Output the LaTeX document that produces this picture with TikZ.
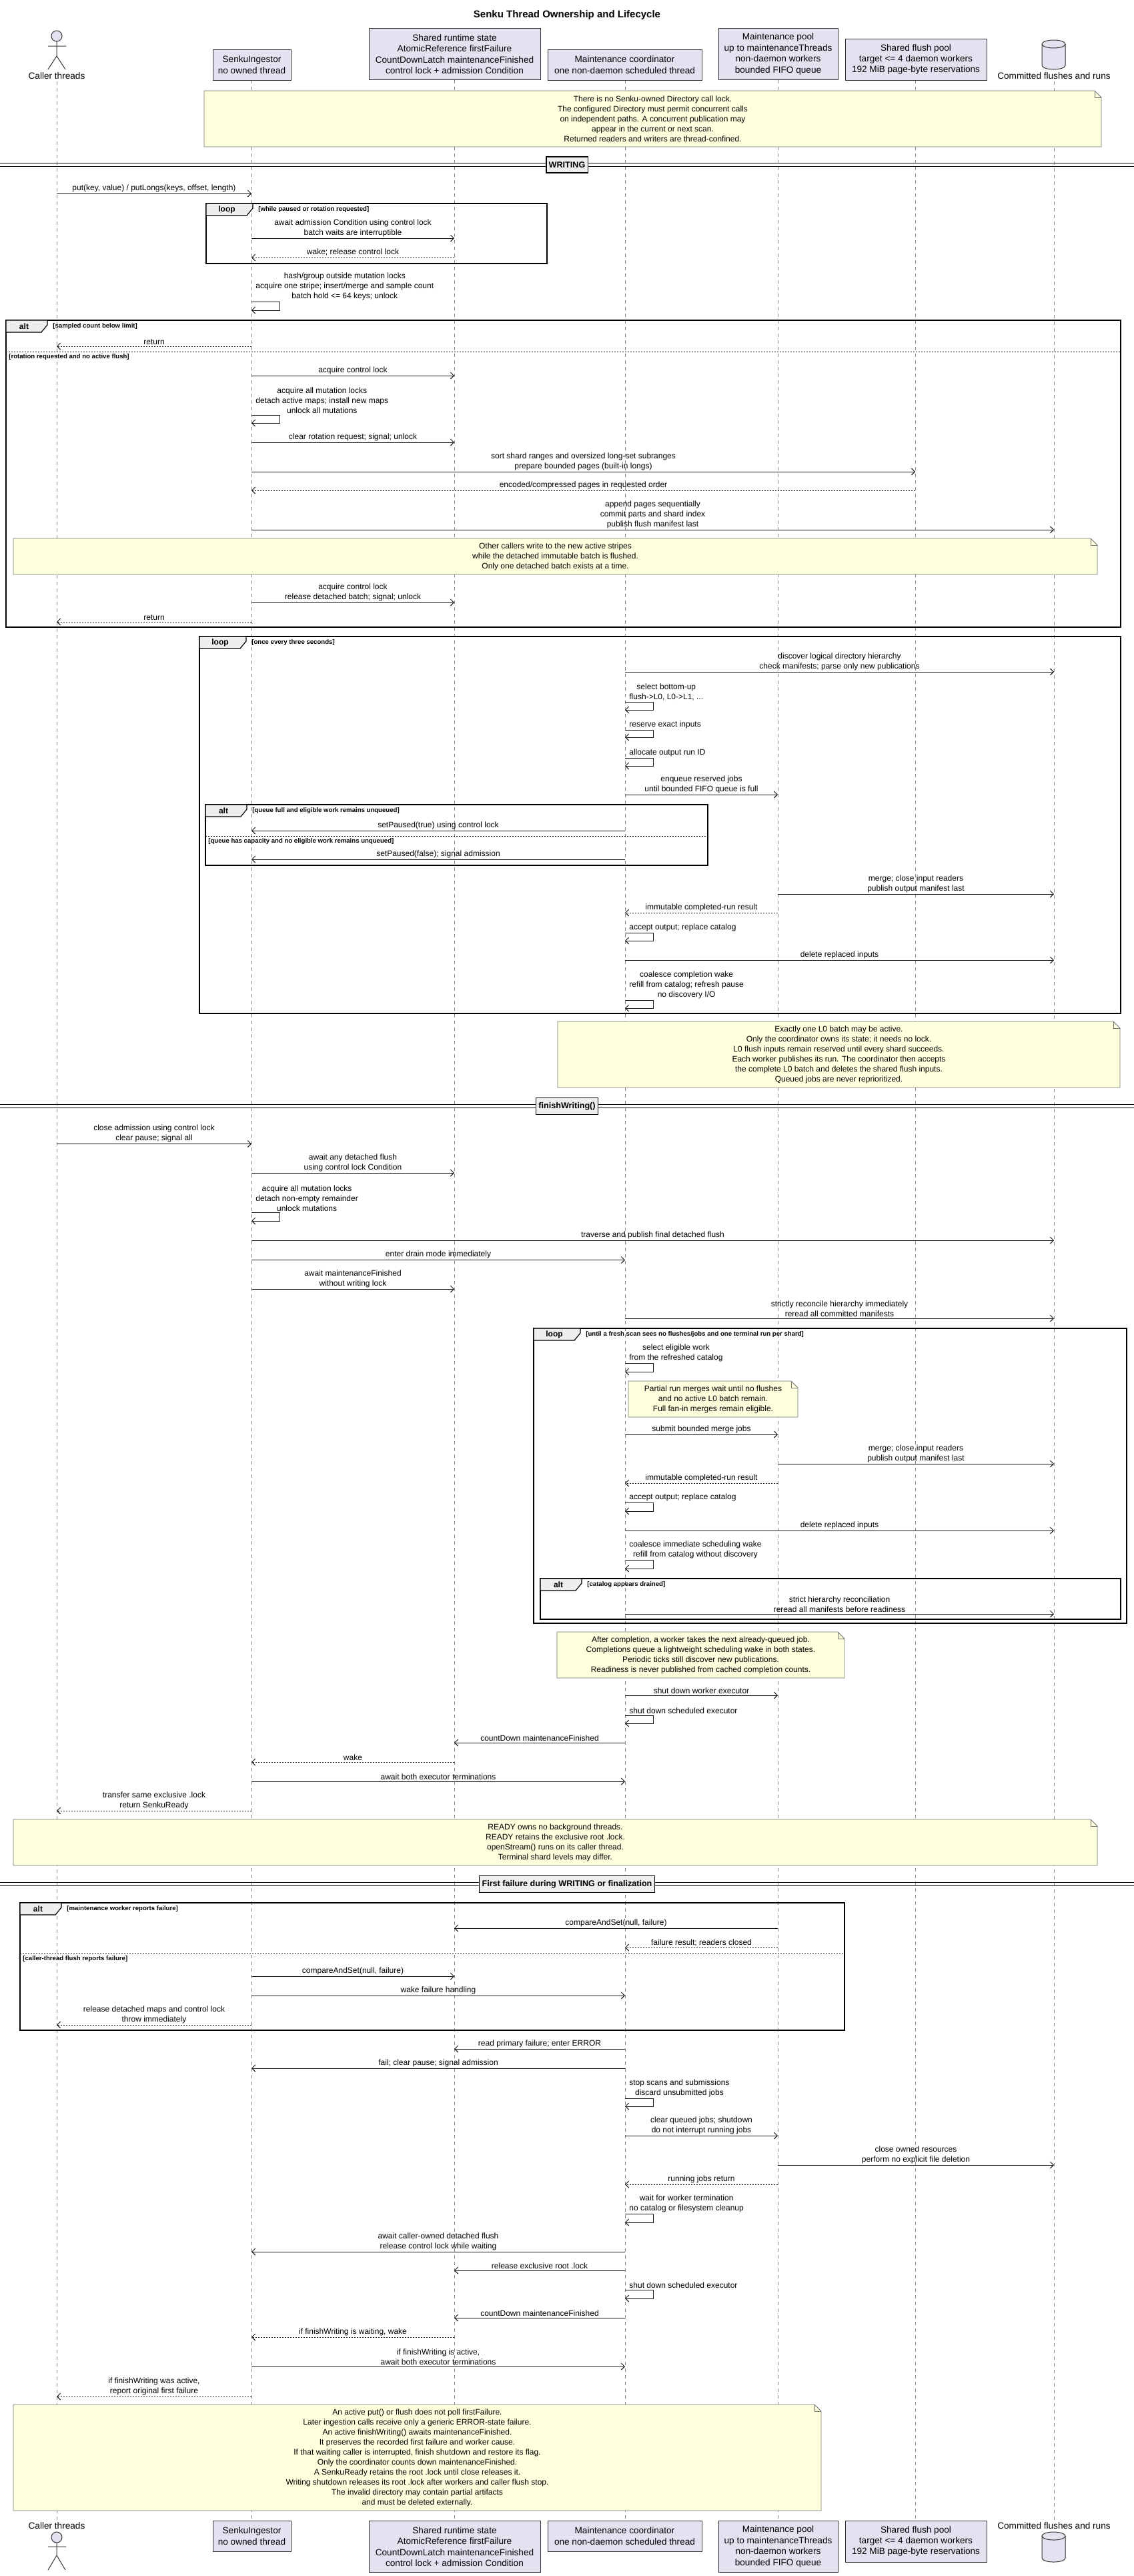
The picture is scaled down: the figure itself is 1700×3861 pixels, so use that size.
\documentclass[tikz,border=0pt]{standalone}
\usepackage{fontspec}
\setmainfont{Liberation Sans}
\usetikzlibrary{arrows.meta,shapes.geometric}
\definecolor{partfill}{HTML}{E2E2F0}
\definecolor{notefill}{HTML}{FEFFDD}
\definecolor{tabfill}{HTML}{EEEEEE}
\definecolor{lline}{HTML}{888888}
\newcounter{mcnt}
\tikzset{
 x=0.5pt,y=-0.5pt,
 msg/.style={draw=black!90,line width=0.5pt,-{Straight Barb[length=2.5pt,width=5pt]}},
 ret/.style={dash pattern=on 1pt off 1pt},
 mtext/.style={above,inner sep=1pt,font=\fontsize{6}{7.5}\selectfont,align=center},
 stext/.style={anchor=south west,inner sep=1pt,xshift=2pt,font=\fontsize{6}{7.5}\selectfont,align=center},
 ntext/.style={font=\fontsize{6}{7.5}\selectfont,align=center,inner sep=0pt},
 notebox/.style={fill=notefill,draw=black!55,line width=0.4pt},
 part/.style={draw=black!80,fill=partfill,line width=0.5pt,font=\fontsize{6.8}{8.2}\selectfont,align=center,inner sep=0pt},
 plab/.style={font=\fontsize{6.8}{8.2}\selectfont,inner sep=0pt},
 life/.style={draw=lline,line width=0.4pt,dash pattern=on 2.5pt off 2.5pt},
 frm/.style={draw=black,line width=0.9pt},
 tab/.style={draw=black,fill=tabfill,line width=0.6pt},
 tabtxt/.style={font=\fontsize{6}{7}\selectfont\bfseries,inner sep=0pt},
 cond/.style={font=\fontsize{4.8}{6}\selectfont\bfseries,anchor=west,inner sep=0pt},
 sep/.style={draw=black,line width=0.5pt,dash pattern=on 1pt off 1pt},
 divbox/.style={draw=black,fill=tabfill,line width=0.8pt,font=\fontsize{6.3}{7.5}\selectfont\bfseries,minimum height=12pt,inner xsep=2pt},
}
\newcommand\mmsg[5][]{\stepcounter{mcnt}%
 \draw[msg,#1] (#2 |- 0,#4) -- node[mtext] (msg\arabic{mcnt}) {#5} (#3 |- 0,#4);}
\newcommand\mself[4]{\stepcounter{mcnt}%
 \draw[msg] (#1 |- 0,#2) -- ++(42,0) |- (#1 |- 0,#3);
 \node[stext] (msg\arabic{mcnt}) at (#1 |- 0,#2) {#4};}
\newcommand\mnote[6]{%
 \draw[notebox] (#2,#3) -- ({#4-10},#3) -- (#4,{#3+10}) -- (#4,#5) -- (#2,#5) -- cycle;
 \draw[draw=black!55,line width=0.4pt] ({#4-10},#3) |- (#4,{#3+10});
 \node[ntext] (#1) at ({(#2+#4)/2},{(#3+#5)/2}) {#6};}
\newcommand\mframe[8]{% name x1 y1 x2 y2 kind tabw cond
 \draw[frm] (#2,#3) rectangle (#4,#5);
 \draw[tab] (#2,#3) -- ({#2+#7},#3) -- ({#2+#7},{#3+7}) -- ({#2+#7-9},{#3+18}) -- (#2,{#3+18}) -- cycle;
 \node[tabtxt] (#1) at ({#2+(#7-8)/2},{#3+9}) {#6};
 \node[cond] (#1c) at ({#2+#7+8},{#3+9}) {#8};}
\newcommand\msep[4]{% name x1 x2 y cond
 \draw[sep] (#2,#4) -- (#3,#4);}
\newcommand\mdivider[3]{%
 \draw[line width=0.6pt] (0,{#2-2.5}) -- (1700,{#2-2.5}) (0,{#2+2.5}) -- (1700,{#2+2.5});
 \node[divbox] (#1) at (850,#2) {#3};}
\begin{document}
\begin{tikzpicture}
\useasboundingbox (0,0) rectangle (1700,3861);
\fill[white] (0,0) rectangle (1700,3861);
\coordinate (cl) at (85,0);
\coordinate (ing) at (377,0);
\coordinate (sh) at (681,0);
\coordinate (co) at (937,0);
\coordinate (po) at (1166,0);
\coordinate (fp) at (1372,0);
\coordinate (cm) at (1580,0);
\node[font=\fontsize{7.5}{9}\selectfont\bfseries] (title) at (850,23) {Senku Thread Ownership and Lifecycle};
% lifelines
\foreach \p in {ing,sh,co,po,fp} {\draw[life] (\p |- 0,120) -- (\p |- 0,3778);}
\draw[life] (cl |- 0,122) -- (cl |- 0,3778);
\draw[life] (cm |- 0,122) -- (cm |- 0,3778);
% participants top
\node[part,minimum width=58.5pt,minimum height=23pt] (pIng) at (377.5,97) {SenkuIngestor\\no owned thread};
\node[part,minimum width=128.5pt,minimum height=38.75pt] (pSh) at (681.5,81) {Shared runtime state\\AtomicReference firstFailure\\CountDownLatch maintenanceFinished\\control lock + admission Condition};
\node[part,minimum width=115.5pt,minimum height=23pt] (pCo) at (936.5,97) {Maintenance coordinator\\one non-daemon scheduled thread};
\node[part,minimum width=89.5pt,minimum height=38.75pt] (pPo) at (1166.5,81) {Maintenance pool\\up to maintenanceThreads\\non-daemon workers\\bounded FIFO queue};
\node[part,minimum width=106pt,minimum height=31pt] (pFp) at (1373,89) {Shared flush pool\\target <= 4 daemon workers\\192 MiB page-byte reservations};
\draw[draw=black!80,fill=partfill,line width=0.5pt] (85,54) circle (4pt);
\draw[draw=black!80,line width=0.5pt] (85,62) -- (85,84) (72,69) -- (99,69) (72,104) -- (85,84) -- (98,104);
\node[plab] (pCl) at (85,114) {Caller threads};
\draw[draw=black!80,fill=partfill,line width=0.5pt] (1562,66) -- (1562,98) arc[start angle=180,end angle=360,x radius=8.75pt,y radius=3pt] -- (1597,66) arc[start angle=0,end angle=180,x radius=8.75pt,y radius=3pt];
\draw[draw=black!80,line width=0.5pt] (1562,66) arc[start angle=180,end angle=360,x radius=8.75pt,y radius=3pt];
\node[plab] (pCm) at (1580,114) {Committed flushes and runs};
% participants bottom
\node[part,minimum width=58.5pt,minimum height=23pt] (bIng) at (377.5,3801) {SenkuIngestor\\no owned thread};
\node[part,minimum width=128.5pt,minimum height=38.75pt] (bSh) at (681.5,3817) {Shared runtime state\\AtomicReference firstFailure\\CountDownLatch maintenanceFinished\\control lock + admission Condition};
\node[part,minimum width=115.5pt,minimum height=23pt] (bCo) at (936.5,3801) {Maintenance coordinator\\one non-daemon scheduled thread};
\node[part,minimum width=89.5pt,minimum height=38.75pt] (bPo) at (1166.5,3817) {Maintenance pool\\up to maintenanceThreads\\non-daemon workers\\bounded FIFO queue};
\node[part,minimum width=106pt,minimum height=31pt] (bFp) at (1373,3809) {Shared flush pool\\target <= 4 daemon workers\\192 MiB page-byte reservations};
\node[plab] (bCl) at (85,3786) {Caller threads};
\draw[draw=black!80,fill=partfill,line width=0.5pt] (85,3803) circle (4pt);
\draw[draw=black!80,line width=0.5pt] (85,3811) -- (85,3830) (72,3817) -- (99,3817) (72,3852) -- (85,3830) -- (98,3852);
\node[plab] (bCm) at (1580,3786) {Committed flushes and runs};
\draw[draw=black!80,fill=partfill,line width=0.5pt] (1562,3801) -- (1562,3834) arc[start angle=180,end angle=360,x radius=8.75pt,y radius=3pt] -- (1597,3801) arc[start angle=0,end angle=180,x radius=8.75pt,y radius=3pt];
\draw[draw=black!80,line width=0.5pt] (1562,3801) arc[start angle=180,end angle=360,x radius=8.75pt,y radius=3pt];

\mnote{n1}{306}{136}{1651}{220}{There is no Senku-owned Directory call lock.\\The configured Directory must permit concurrent calls\\on independent paths. A concurrent publication may\\appear in the current or next scan.\\Returned readers and writers are thread-confined.}
\mdivider{d1}{247}{WRITING}
\mmsg{cl}{ing}{290}{put(key, value) / putLongs(keys, offset, length)}
\mframe{f1}{309}{305}{820}{395}{loop}{70}{[while paused or rotation requested]}
\mmsg{ing}{sh}{357}{await admission Condition using control lock\\batch waits are interruptible}
\mmsg[ret]{sh}{ing}{386}{wake; release control lock}
\mself{ing}{452}{465}{hash/group outside mutation locks\\acquire one stripe; insert/merge and sample count\\batch hold <= 64 keys; unlock}
\mframe{f2}{9}{480}{1680}{940}{alt}{62}{[sampled count below limit]}
\mmsg[ret]{ing}{cl}{519}{return}
\msep{s2}{9}{1680}{527}
\node[cond] (f2d) at (13,535) {[rotation requested and no active flush]};
\mmsg{ing}{sh}{563}{acquire control lock}
\mself{ing}{622}{634}{acquire all mutation locks\\detach active maps; install new maps\\unlock all mutations}
\mmsg{ing}{sh}{663}{clear rotation request; signal; unlock}
\mmsg{ing}{fp}{707}{sort shard ranges and oversized long-set subranges\\prepare bounded pages (built-in longs)}
\mmsg[ret]{fp}{ing}{735}{encoded/compressed pages in requested order}
\mmsg{ing}{cm}{794}{append pages sequentially\\commit parts and shard index\\publish flush manifest last}
\mnote{n2}{20}{807}{1645}{861}{Other callers write to the new active stripes\\while the detached immutable batch is flushed.\\Only one detached batch exists at a time.}
\mmsg{ing}{sh}{903}{acquire control lock\\release detached batch; signal; unlock}
\mmsg[ret]{ing}{cl}{932}{return}
\mframe{f3}{299}{954}{1680}{1519}{loop}{70}{[once every three seconds]}
\mmsg{co}{cm}{1007}{discover logical directory hierarchy\\check manifests; parse only new publications}
\mself{co}{1052}{1064}{select bottom-up\\flush->L0, L0->L1, ...}
\mself{co}{1094}{1105}{reserve exact inputs}
\mself{co}{1136}{1148}{allocate output run ID}
\mmsg{co}{po}{1191}{enqueue reserved jobs\\until bounded FIFO queue is full}
\mframe{f4}{308}{1206}{1061}{1297}{alt}{62}{[queue full and eligible work remains unqueued]}
\mmsg{co}{ing}{1245}{setPaused(true) using control lock}
\msep{s4}{308}{1061}{1253.5}
\node[cond] (f4d) at (312,1261) {[queue has capacity and no eligible work remains unqueued]};
\mmsg{co}{ing}{1288}{setPaused(false); signal admission}
\mmsg{po}{cm}{1340}{merge; close input readers\\publish output manifest last}
\mmsg[ret]{po}{co}{1368}{immutable completed-run result}
\mself{co}{1398}{1410}{accept output; replace catalog}
\mmsg{co}{cm}{1439}{delete replaced inputs}
\mself{co}{1499}{1511}{coalesce completion wake\\refill from catalog; refresh pause\\no discovery I/O}
\mnote{n3}{836}{1531}{1679}{1630}{Exactly one L0 batch may be active.\\Only the coordinator owns its state; it needs no lock.\\L0 flush inputs remain reserved until every shard succeeds.\\Each worker publishes its run. The coordinator then accepts\\the complete L0 batch and deletes the shared flush inputs.\\Queued jobs are never reprioritized.}
\mdivider{d2}{1658}{finishWriting()}
\mmsg{cl}{ing}{1714.5}{close admission using control lock\\clear pause; signal all}
\mmsg{ing}{sh}{1758}{await any detached flush\\using control lock Condition}
\mself{ing}{1817.5}{1830}{acquire all mutation locks\\detach non-empty remainder\\unlock mutations}
\mmsg{ing}{cm}{1859}{traverse and publish final detached flush}
\mmsg{ing}{co}{1888.5}{enter drain mode immediately}
\mmsg{ing}{sh}{1932}{await maintenanceFinished\\without writing lock}
\mmsg{co}{cm}{1976}{strictly reconcile hierarchy immediately\\reread all committed manifests}
\mframe{f5}{800}{1991}{1689}{2433}{loop}{70}{[until a fresh scan sees no flushes/jobs and one terminal run per shard]}
\mself{co}{2043.5}{2056}{select eligible work\\from the refreshed catalog}
\mnote{n4}{942}{2070}{1196}{2124}{Partial run merges wait until no flushes\\and no active L0 batch remain.\\Full fan-in merges remain eligible.}
\mmsg{co}{po}{2150}{submit bounded merge jobs}
\mmsg{po}{cm}{2194}{merge; close input readers\\publish output manifest last}
\mmsg[ret]{po}{co}{2223}{immutable completed-run result}
\mself{co}{2252}{2265}{accept output; replace catalog}
\mmsg{co}{cm}{2294}{delete replaced inputs}
\mself{co}{2338}{2351}{coalesce immediate scheduling wake\\refill from catalog without discovery}
\mframe{f6}{810}{2366}{1680}{2427}{alt}{62}{[catalog appears drained]}
\mmsg{co}{cm}{2419}{strict hierarchy reconciliation\\reread all manifests before readiness}
\mnote{n5}{835}{2446}{1266}{2515}{After completion, a worker takes the next already-queued job.\\Completions queue a lightweight scheduling wake in both states.\\Periodic ticks still discover new publications.\\Readiness is never published from cached completion counts.}
\mmsg{co}{po}{2541}{shut down worker executor}
\mself{co}{2571}{2583}{shut down scheduled executor}
\mmsg{co}{sh}{2612}{countDown maintenanceFinished}
\mmsg[ret]{sh}{ing}{2641}{wake}
\mmsg{ing}{co}{2670}{await both executor terminations}
\mmsg[ret]{ing}{cl}{2714}{transfer same exclusive .lock\\return SenkuReady}
\mnote{n6}{20}{2727}{1645}{2796}{READY owns no background threads.\\READY retains the exclusive root .lock.\\openStream() runs on its caller thread.\\Terminal shard levels may differ.}
\mdivider{d3}{2824}{First failure during WRITING or finalization}
\mframe{f7}{30}{2852}{1266}{3043}{alt}{62}{[maintenance worker reports failure]}
\mmsg{po}{sh}{2890}{compareAndSet(null, failure)}
\mmsg[ret]{po}{co}{2919}{failure result; readers closed}
\msep{s7}{30}{1266}{2928}
\node[cond] (f7d) at (34,2936) {[caller-thread flush reports failure]};
\mmsg{ing}{sh}{2962}{compareAndSet(null, failure)}
\mmsg{ing}{co}{2991}{wake failure handling}
\mmsg[ret]{ing}{cl}{3035}{release detached maps and control lock\\throw immediately}
\mmsg{co}{sh}{3071}{read primary failure; enter ERROR}
\mmsg{co}{ing}{3100}{fail; clear pause; signal admission}
\mself{co}{3145}{3157}{stop scans and submissions\\discard unsubmitted jobs}
\mmsg{co}{po}{3201}{clear queued jobs; shutdown\\do not interrupt running jobs}
\mmsg{po}{cm}{3245}{close owned resources\\perform no explicit file deletion}
\mmsg[ret]{po}{co}{3274}{running jobs return}
\mself{co}{3318}{3331}{wait for worker termination\\no catalog or filesystem cleanup}
\mmsg{co}{ing}{3375}{await caller-owned detached flush\\release control lock while waiting}
\mmsg{co}{sh}{3403}{release exclusive root .lock}
\mself{co}{3432}{3445}{shut down scheduled executor}
\mmsg{co}{sh}{3474}{countDown maintenanceFinished}
\mmsg[ret]{sh}{ing}{3503}{if finishWriting is waiting, wake}
\mmsg{ing}{co}{3547}{if finishWriting is active,\\await both executor terminations}
\mmsg[ret]{ing}{cl}{3592}{if finishWriting was active,\\report original first failure}
\mnote{n7}{20}{3604}{1231}{3763}{An active put() or flush does not poll firstFailure.\\Later ingestion calls receive only a generic ERROR-state failure.\\An active finishWriting() awaits maintenanceFinished.\\It preserves the recorded first failure and worker cause.\\If that waiting caller is interrupted, finish shutdown and restore its flag.\\Only the coordinator counts down maintenanceFinished.\\A SenkuReady retains the root .lock until close releases it.\\Writing shutdown releases its root .lock after workers and caller flush stop.\\The invalid directory may contain partial artifacts\\and must be deleted externally.}
\end{tikzpicture}
\end{document}
